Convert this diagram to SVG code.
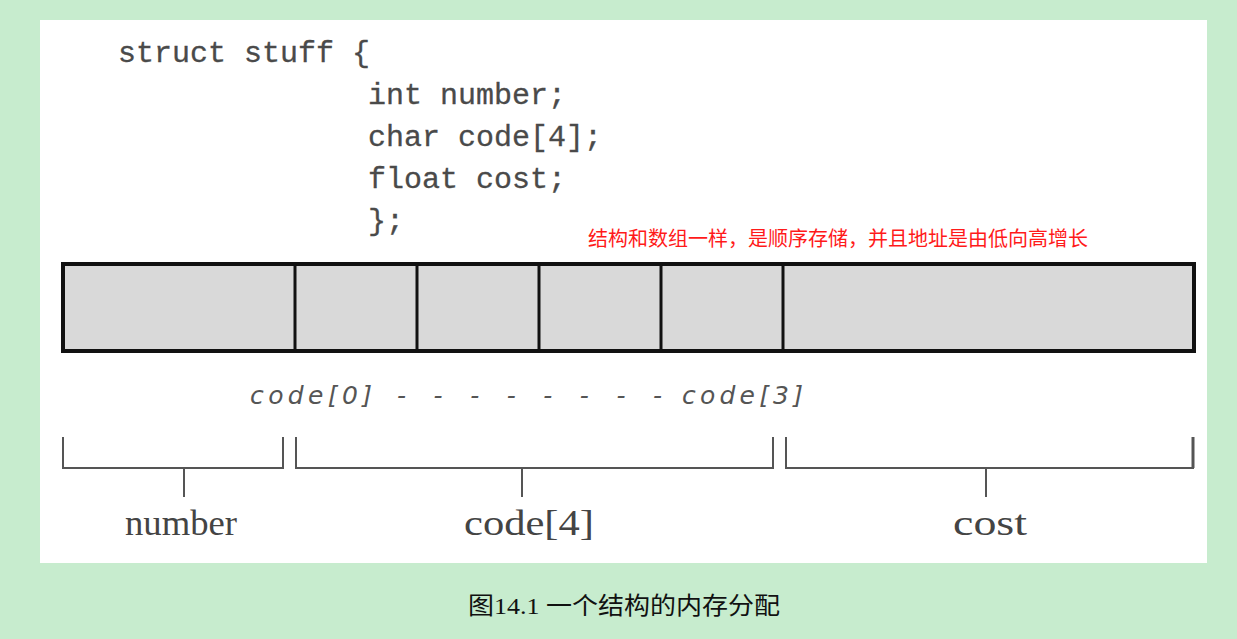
<svg xmlns="http://www.w3.org/2000/svg" width="1237" height="639" viewBox="0 0 1237 639">
<style>
.code{font-family:"Liberation Mono","DejaVu Sans Mono",monospace;font-size:30px;fill:#4a4a4a;stroke:#4a4a4a;stroke-width:0.3}
.idx{font-family:"DejaVu Sans","Liberation Sans",sans-serif;font-style:italic;font-size:25px;fill:#555}
.lbl{font-family:"Liberation Serif","DejaVu Serif",serif;font-size:36px;fill:#444}
.cell{fill:#d9d9d9;stroke:#111;stroke-width:4}
.div{stroke:#111;stroke-width:3}
.br{fill:none;stroke:#555;stroke-width:2}
.note{font-family:"Noto Sans CJK SC",sans-serif;font-size:20px;fill:#ff1a1a}
.cap{font-family:"Liberation Serif","Noto Sans CJK SC",serif;font-size:24px;fill:#111}
</style>
<rect x="0" y="0" width="1237" height="639" fill="#c7ecce"/>
<rect x="40" y="20" width="1167" height="543" fill="#ffffff"/>
<g id="code">
<text class="code" x="118" y="62">struct stuff {</text>
<text class="code" x="368" y="104">int number;</text>
<text class="code" x="368" y="146">char code[4];</text>
<text class="code" x="368" y="188">float cost;</text>
<text class="code" x="368" y="230">};</text>
</g>
<text id="note" class="note" x="588" y="246" textLength="500" lengthAdjust="spacingAndGlyphs">结构和数组一样，是顺序存储，并且地址是由低向高增长</text>
<g id="memory">
<rect class="cell" x="63" y="264" width="1131" height="87"/>
<line class="div" x1="295" y1="264" x2="295" y2="351"/>
<line class="div" x1="417" y1="264" x2="417" y2="351"/>
<line class="div" x1="539" y1="264" x2="539" y2="351"/>
<line class="div" x1="661" y1="264" x2="661" y2="351"/>
<line class="div" x1="783" y1="264" x2="783" y2="351"/>
</g>
<g id="indices">
<text class="idx" x="250" y="404" textLength="122" lengthAdjust="spacing">code[0]</text>
<text class="idx" x="397" y="404" textLength="265" lengthAdjust="spacing">- - - - - - - -</text>
<text class="idx" x="682" y="404" textLength="121" lengthAdjust="spacing">code[3]</text>
</g>
<g id="connectors">
<path class="br" d="M63,437 V468 H283 V437 M184,468 V497"/>
<path class="br" d="M296,437 V468 H773 V437 M522,468 V497"/>
<path class="br" d="M786,437 V468 H1193 V437 M986,468 V497"/>
<line x1="1193" y1="437" x2="1193" y2="468" stroke="#555" stroke-width="3"/>
</g>
<g id="labels">
<text class="lbl" x="125" y="535" textLength="112" lengthAdjust="spacingAndGlyphs">number</text>
<text class="lbl" x="464" y="535" textLength="130" lengthAdjust="spacingAndGlyphs">code[4]</text>
<text class="lbl" x="953" y="535" textLength="74" lengthAdjust="spacingAndGlyphs">cost</text>
</g>
<text id="caption" class="cap" x="468" y="614" textLength="312" lengthAdjust="spacingAndGlyphs">图14.1 一个结构的内存分配</text>
</svg>
